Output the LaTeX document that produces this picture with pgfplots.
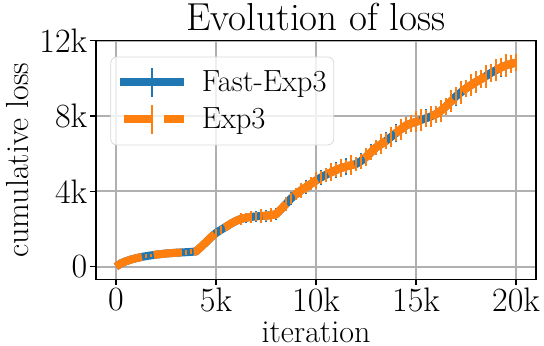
\documentclass[border=0pt]{standalone}
\usepackage{pgfplots}
\pgfplotsset{compat=1.18}
\usepackage{pgfplotstable}

\definecolor{mblue}{HTML}{1F77B4}
\definecolor{morange}{HTML}{FF7F0E}
\definecolor{mgrid}{HTML}{B0B0B0}

% x = iteration, y = cumulative loss, e = error bar half-length
\pgfplotstableread{
x y e
0 0 0
250 180 30
500 290 40
750 380 50
1000 450 60
1250 510 70
1500 560 80
1750 600 80
2000 640 90
2250 670 90
2500 700 100
2750 720 100
3000 740 110
3250 755 110
3500 770 120
3750 785 120
4000 810 130
4250 1050 140
4500 1300 160
4750 1560 170
5000 1790 180
5250 1960 190
5500 2120 200
5750 2290 210
6000 2430 220
6250 2540 230
6500 2600 260
6750 2640 240
7000 2670 300
7250 2690 250
7500 2710 320
7750 2730 260
8000 2790 330
8250 3050 270
8500 3330 280
8750 3620 360
9000 3850 290
9250 4050 300
9500 4220 380
9750 4400 310
10000 4580 320
10250 4740 400
10500 4880 330
10750 5010 340
11000 5130 420
11250 5240 340
11500 5320 430
11750 5390 350
12000 5450 360
12250 5610 440
12500 5820 360
12750 6080 420
13000 6330 380
13250 6500 370
13500 6680 450
13750 6890 380
14000 7100 460
14250 7300 390
14500 7500 410
14750 7610 470
15000 7690 420
15250 7790 400
15500 7880 480
15750 7980 410
16000 8100 420
16250 8280 490
16500 8520 440
16750 8780 420
17000 9050 500
17250 9260 420
17500 9470 440
17750 9640 510
18000 9810 440
18250 9960 430
18500 10120 520
18750 10290 430
19000 10440 440
19250 10580 520
19500 10690 440
19750 10770 430
20000 10830 420
}\fastexp

\pgfplotstableread{
x y e
0 0 0
250 180 30
500 290 50
750 380 60
1000 450 70
1250 510 80
1500 560 90
1750 600 90
2000 640 100
2250 670 100
2500 700 110
2750 720 110
3000 740 120
3250 755 120
3500 770 130
3750 785 130
4000 810 140
4250 1050 150
4500 1300 170
4750 1560 180
5000 1790 190
5250 1960 200
5500 2120 210
5750 2290 220
6000 2430 230
6250 2540 300
6500 2600 240
6750 2640 330
7000 2670 250
7250 2690 350
7500 2710 260
7750 2730 360
8000 2790 270
8250 3050 300
8500 3330 380
8750 3620 290
9000 3850 320
9250 4050 420
9500 4220 330
9750 4400 340
10000 4580 450
10250 4740 350
10500 4880 360
10750 5010 470
11000 5130 360
11250 5240 500
11500 5320 370
11750 5390 520
12000 5450 380
12250 5610 400
12500 5820 480
12750 6080 400
13000 6330 420
13250 6500 530
13500 6680 410
13750 6890 550
14000 7100 420
14250 7300 560
14500 7500 430
14750 7610 450
15000 7690 560
15250 7790 580
15500 7880 440
15750 7980 560
16000 8100 450
16250 8280 580
16500 8520 460
16750 8780 590
17000 9050 470
17250 9260 600
17500 9470 460
17750 9640 590
18000 9810 600
18250 9960 480
18500 10120 610
18750 10290 470
19000 10440 600
19250 10580 480
19500 10690 610
19750 10770 470
20000 10830 460
}\exp

\begin{document}
\begin{tikzpicture}
\useasboundingbox (0,0) rectangle (272pt,173pt);
\begin{axis}[
  at={(48pt,33.25pt)}, anchor=south west,
  scale only axis, width=220pt, height=119.4pt,
  xmin=-1000, xmax=21000, ymin=-680, ymax=12000,
  xtick={0,5000,10000,15000,20000}, xticklabels={0,5k,10k,15k,20k},
  ytick={0,4000,8000,12000}, yticklabels={0,4k,8k,12k},
  scaled ticks=false,
  tick align=outside, major tick length=3pt, tick pos=left,
  tick style={black, line width=0.6pt},
  grid=major, grid style={mgrid, line width=1pt},
  axis line style={line width=0.65pt},
  ticklabel style={font=\fontsize{17}{20}\selectfont, inner sep=1.2pt},
  title={Evolution of loss},
  title style={font=\fontsize{19.5}{23}\selectfont, at={(axis description cs:0.5,1.0406)}, anchor=base, yshift=-6pt},
  xlabel={iteration}, ylabel={cumulative loss},
  label style={font=\fontsize{16}{19}\selectfont},
  xlabel style={at={(axis description cs:0.5,-0.264)}, anchor=base},
  ylabel style={at={(axis description cs:-0.1545,0.5)}, anchor=base},
  legend cell align=left,
  legend style={at={(axis description cs:0.0327,0.9335)}, anchor=north west,
    draw=black!15, rounded corners=3pt, fill=white, fill opacity=0.8, text opacity=1,
    font=\fontsize{15.3}{18}\selectfont, inner xsep=2.5pt, inner ysep=5pt,
    nodes={inner sep=1pt}, column sep=6pt, row sep=3pt},
]
\addplot[mblue, line width=4pt, line join=round,
  legend image code/.code={
    \draw[line width=4pt] (0pt,0pt) -- (32pt,0pt);
    \draw[line width=1pt, solid] (16pt,-7.25pt) -- (16pt,7.25pt);},
  error bars/.cd, y dir=both, y explicit, error mark=none,
  error bar style={line width=1pt, solid}]
  table[x=x, y=y, y error=e] {\fastexp};
\addlegendentry{Fast-Exp3\hspace{3pt}}
\addplot[morange, line width=4pt, dash pattern=on 14pt off 6pt,
  legend image code/.code={
    \draw[line width=4pt, dash pattern=on 14pt off 6pt] (2pt,0pt) -- (32pt,0pt);
    \draw[line width=1pt, solid] (16pt,-7.25pt) -- (16pt,7.25pt);},
  error bars/.cd, y dir=both, y explicit, error mark=none,
  error bar style={line width=1pt, solid}]
  table[x=x, y=y, y error=e] {\exp};
\addlegendentry{Exp3}
\end{axis}
\end{tikzpicture}
\end{document}
